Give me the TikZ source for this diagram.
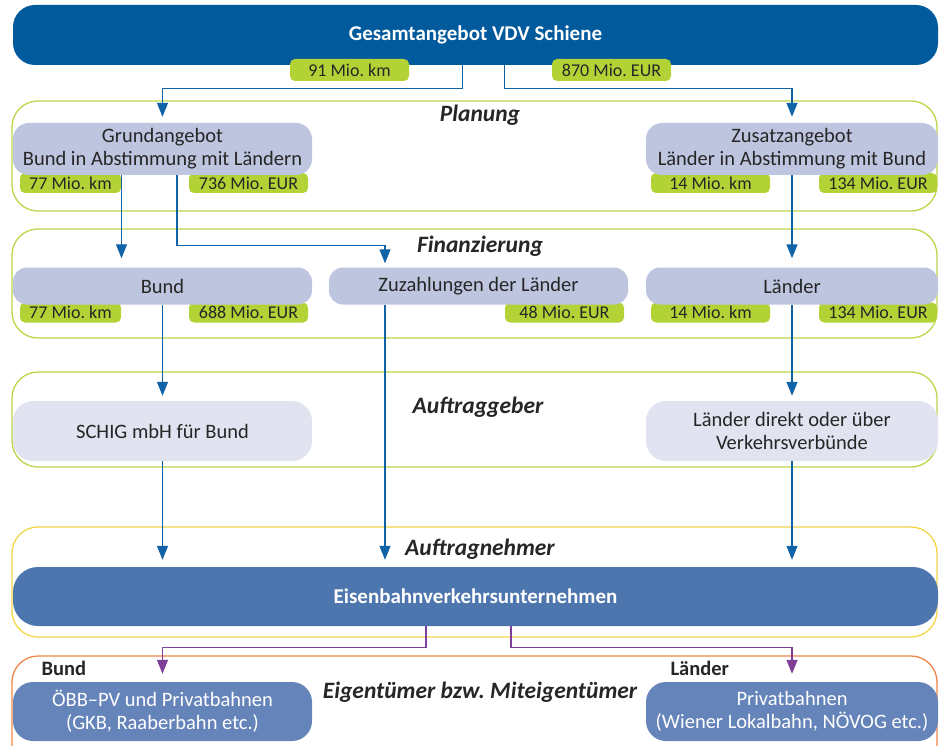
\documentclass[tikz,border=0pt]{standalone}
\usepackage{fontspec}
\setmainfont{Carlito}
\usepackage{tikz}
\usetikzlibrary{arrows.meta}
\frenchspacing
\definecolor{vdvblue}{HTML}{005A9C}
\definecolor{evublue}{HTML}{4E76AE}
\definecolor{ownblue}{HTML}{6584BA}
\definecolor{lavender}{HTML}{BEC5DF}
\definecolor{palelav}{HTML}{E1E4F0}
\definecolor{taggreen}{HTML}{B3D236}
\definecolor{panelgreen}{HTML}{BCD648}
\definecolor{panelyellow}{HTML}{F3D548}
\definecolor{panelorange}{HTML}{F0854B}
\definecolor{flowblue}{HTML}{1163A7}
\definecolor{flowpurple}{HTML}{7E3F98}
\definecolor{textgray}{HTML}{262626}
\tikzset{
	topstyle/.style={rectangle,rounded corners=22pt,fill=vdvblue,text=white,font=\fontsize{21}{24}\selectfont\bfseries},
	lightstyle/.style={rectangle,rounded corners=16pt,fill=lavender,text=textgray,align=center,font=\fontsize{20.5}{23}\selectfont},
	palestyle/.style={rectangle,rounded corners=20pt,fill=palelav,text=textgray,align=center,font=\fontsize{20.5}{23}\selectfont},
	firmstyle/.style={rectangle,rounded corners=25pt,fill=evublue,text=white,font=\fontsize{21}{24}\selectfont\bfseries},
	ownerstyle/.style={rectangle,rounded corners=20pt,fill=ownblue,text=white,align=center,font=\fontsize{20.5}{23}\selectfont},
	tagstyle/.style={rectangle,rounded corners=5pt,fill=taggreen,text=textgray,inner sep=0pt,minimum height=20,font=\fontsize{18}{20}\selectfont},
	panelstyle/.style={line width=1.3pt,rounded corners=26pt},
	phasestyle/.style={text=textgray,font=\fontsize{23.5}{26}\selectfont\bfseries\itshape},
	groupstyle/.style={text=textgray,anchor=west,font=\fontsize{20.5}{23}\selectfont\bfseries},
	flowstyle/.style={draw=flowblue,line width=1.3pt,-{Triangle[length=14pt,width=11pt]}},
	ownflowstyle/.style={draw=flowpurple,line width=1.3pt,-{Triangle[length=14pt,width=11pt]}}
}

\begin{document}
\begin{tikzpicture}[x=1pt,y=-1pt]
		\useasboundingbox (0,0) rectangle (939,746);
		% panels
		\draw[panelstyle,draw=panelgreen] (12,101) rectangle (937,211);
		\draw[panelstyle,draw=panelgreen] (12,229) rectangle (937,338);
		\draw[panelstyle,draw=panelgreen] (12,372) rectangle (937,467);
		\draw[panelstyle,draw=panelyellow] (12,527) rectangle (937,637);
		\draw[panelstyle,draw=panelorange] (12,656) rectangle (937,780);
		\node[phasestyle] (planung) at (480,115) {Planung};
		\node[phasestyle] (finanz) at (480,246) {Finanzierung};
		\node[phasestyle] (ag) at (478,407) {Auftraggeber};
		\node[phasestyle] (an) at (480,549) {Auftragnehmer};
		\node[phasestyle] (eig) at (480,692) {Eigentümer bzw. Miteigentümer};
		% top
		\node[topstyle,minimum width=925,minimum height=60] (gesamt) at (475.5,35) {Gesamtangebot VDV Schiene};
		\node[tagstyle,minimum width=119,minimum height=22] (gkm) at (349.5,70) {91 Mio. km};
		\node[tagstyle,minimum width=119,minimum height=22] (geur) at (611.5,70) {870 Mio. EUR};
		% planung
		\node[tagstyle,minimum width=101] (grkm) at (70.5,183) {77 Mio. km};
		\node[tagstyle,minimum width=119] (greur) at (248.5,183) {736 Mio. EUR};
		\node[tagstyle,minimum width=119] (zukm) at (710.5,183) {14 Mio. km};
		\node[tagstyle,minimum width=118] (zueur) at (878,183) {134 Mio. EUR};
		\node[lightstyle,minimum width=299,minimum height=52] (grund) at (162.5,149) {Grundangebot\\Bund in Abstimmung mit Ländern};
		\node[lightstyle,minimum width=292,minimum height=52] (zusatz) at (792,149) {Zusatzangebot\\Länder in Abstimmung mit Bund};
		% finanzierung
		\node[tagstyle,minimum width=101] (bkm) at (70.5,312.5) {77 Mio. km};
		\node[tagstyle,minimum width=119] (beur) at (248.5,312.5) {688 Mio. EUR};
		\node[tagstyle,minimum width=119] (zzeur) at (564.5,312.5) {48 Mio. EUR};
		\node[tagstyle,minimum width=119] (lkm) at (710.5,312.5) {14 Mio. km};
		\node[tagstyle,minimum width=118] (leur) at (878,312.5) {134 Mio. EUR};
		\node[lightstyle,rounded corners=14pt,minimum width=299,minimum height=37] (bund) at (162.5,286) {Bund};
		\node[lightstyle,rounded corners=14pt,minimum width=299,minimum height=37] (zuz) at (478.5,286) {Zuzahlungen der Länder};
		\node[lightstyle,rounded corners=14pt,minimum width=292,minimum height=37] (laender) at (792,286) {Länder};
		% auftraggeber
		\node[palestyle,minimum width=299,minimum height=60] (schig) at (162.5,431) {SCHIG mbH für Bund};
		\node[palestyle,minimum width=292,minimum height=60] (ldirekt) at (792,431) {Länder direkt oder über\\Verkehrsverbünde};
		% auftragnehmer
		\node[firmstyle,minimum width=925,minimum height=59] (evu) at (475.5,596.5) {Eisenbahnverkehrsunternehmen};
		% eigentuemer
		\node[groupstyle] (gbund) at (38,668) {Bund};
		\node[groupstyle] (glaender) at (667,668) {Länder};
		\node[ownerstyle,minimum width=299,minimum height=59] (oebb) at (162.5,711.5) {ÖBB–PV und Privatbahnen\\(GKB, Raaberbahn etc.)};
		\node[ownerstyle,minimum width=292,minimum height=59] (privat) at (792,711.5) {Privatbahnen\\(Wiener Lokalbahn, NÖVOG etc.)};
		% connectors
		\coordinate (zuzout) at ([xshift=-93.5]zuz.south);
		\draw[flowstyle,shorten >=6pt] ([xshift=-13]gesamt.south) -- ++(0,23) -| (grund.north);
		\draw[flowstyle,shorten >=6pt] ([xshift=29]gesamt.south) -- ++(0,23) -| (zusatz.north);
		\draw[flowstyle,shorten >=9pt] ([xshift=-41]grund.south) -- ([xshift=-41]bund.north);
		\draw[flowstyle,shorten >=4pt] ([xshift=14.5]grund.south) -- ++(0,70) -| ([xshift=-93.5]zuz.north);
		\draw[flowstyle,shorten >=9pt] (zusatz.south) -- (laender.north);
		\draw[flowstyle,shorten >=5pt] (bund.south) -- (schig.north);
		\draw[flowstyle,shorten >=5pt] (laender.south) -- (ldirekt.north);
		\draw[flowstyle,shorten >=7pt] (zuzout) -- (zuzout |- evu.north);
		\draw[flowstyle,shorten >=7pt] (schig.south) -- (schig.south |- evu.north);
		\draw[flowstyle,shorten >=7pt] (ldirekt.south) -- (ldirekt.south |- evu.north);
		\draw[ownflowstyle,shorten >=8pt] ([xshift=-49.5]evu.south) -- ++(0,21) -| (oebb.north);
		\draw[ownflowstyle,shorten >=8pt] ([xshift=35.5]evu.south) -- ++(0,21) -| (privat.north);
\end{tikzpicture}
\end{document}
